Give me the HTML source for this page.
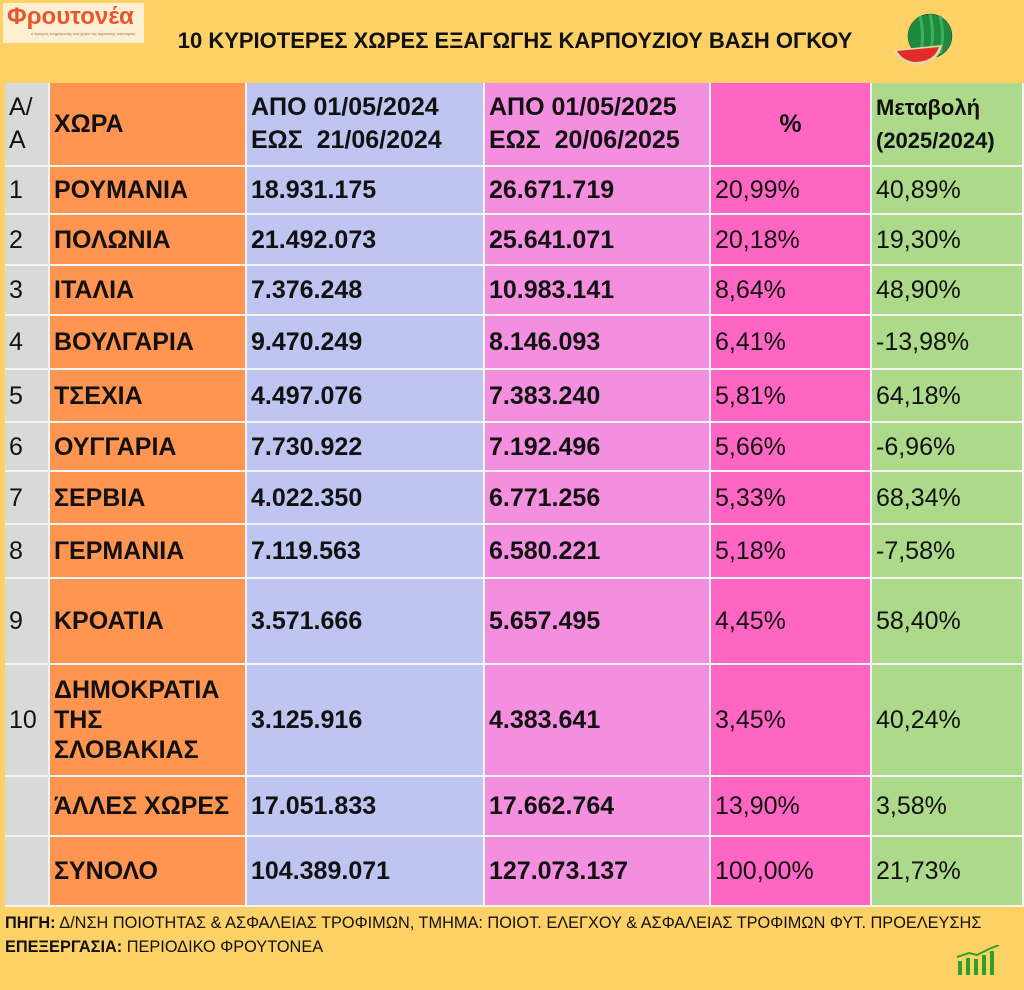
<!DOCTYPE html>
<html><head><meta charset="utf-8">
<style>
body{margin:0;width:1024px;height:990px;background:#fdd166;font-family:"Liberation Sans",sans-serif;position:relative;overflow:hidden}
.c{position:absolute;box-sizing:border-box;display:flex;align-items:center;padding-left:4px;font-size:25px;color:#111;line-height:30px}
.b{font-weight:bold}
#tbg{position:absolute;left:5px;top:83px;width:1019px;height:824px;background:#f4f4f4}
#logo{position:absolute;left:3px;top:3px;width:141px;height:40px;background:#fdf0d2}
#title{position:absolute;left:120px;top:28px;width:790px;text-align:center;font-weight:bold;font-size:22px;color:#111}
.foot{position:absolute;left:5px;font-size:17px;color:#111;transform-origin:0 0;transform:scaleX(0.96);white-space:nowrap}
</style></head>
<body>
<div id="logo">
<div style="color:#e8572c;font-weight:bold;font-size:24px;padding-left:4px;line-height:28px">Φρουτονέα</div>
<div style="font-size:4px;color:#a64;padding-left:28px">ο έγκυρος ενημέρωσης στο χώρο της αγροτικής οικονομίας</div>
</div>
<div id="title">10 ΚΥΡΙΟΤΕΡΕΣ ΧΩΡΕΣ ΕΞΑΓΩΓΗΣ ΚΑΡΠΟΥΖΙΟΥ ΒΑΣΗ ΟΓΚΟΥ</div>
<svg style="position:absolute;left:890px;top:10px" width="70" height="60">
<circle cx="40" cy="26" r="22" fill="#1e8a3e" stroke="#135" stroke-width="0.5"/>
<path d="M30 6 q5 20 0 40 M40 4 q5 20 0 42 M50 6 q5 20 0 38" stroke="#3cb05a" stroke-width="3" fill="none"/>
<path d="M3 40 L52 35 Q48 55 24 55 Q9 52 3 40Z" fill="#e8d9a0"/>
<path d="M7 41 L49 37 Q44 52 24 52 Q12 50 7 41Z" fill="#e52a2a"/>
</svg>
<div id="tbg"></div>
<div id="table"></div>
<div class="foot" style="top:913px"><b>ΠΗΓΗ:</b> Δ/ΝΣΗ ΠΟΙΟΤΗΤΑΣ &amp; ΑΣΦΑΛΕΙΑΣ ΤΡΟΦΙΜΩΝ, ΤΜΗΜΑ: ΠΟΙΟΤ. ΕΛΕΓΧΟΥ &amp; ΑΣΦΑΛΕΙΑΣ ΤΡΟΦΙΜΩΝ ΦΥΤ. ΠΡΟΕΛΕΥΣΗΣ</div>
<div class="foot" style="top:937px"><b>ΕΠΕΞΕΡΓΑΣΙΑ:</b> ΠΕΡΙΟΔΙΚΟ ΦΡΟΥΤΟΝΕΑ</div>
<svg style="position:absolute;left:955px;top:945px" width="55" height="32">
<g fill="#2aa22a"><rect x="3" y="16" width="4" height="14"/><rect x="11" y="13" width="4" height="17"/><rect x="19" y="14" width="4" height="16"/><rect x="27" y="10" width="4" height="20"/><rect x="35" y="6" width="4" height="24"/></g>
<path d="M2 12 L14 8 L22 10 L34 4 L44 0" stroke="#2aa22a" stroke-width="2" fill="none"/>
</svg>
<script>
const idx=["1","2","3","4","5","6","7","8","9","10","",""];
const countries=["ΡΟΥΜΑΝΙΑ","ΠΟΛΩΝΙΑ","ΙΤΑΛΙΑ","ΒΟΥΛΓΑΡΙΑ","ΤΣΕΧΙΑ","ΟΥΓΓΑΡΙΑ","ΣΕΡΒΙΑ","ΓΕΡΜΑΝΙΑ","ΚΡΟΑΤΙΑ","ΔΗΜΟΚΡΑΤΙΑ<br>ΤΗΣ<br>ΣΛΟΒΑΚΙΑΣ","ΆΛΛΕΣ ΧΩΡΕΣ","ΣΥΝΟΛΟ"];
const vol2024=["18.931.175","21.492.073","7.376.248","9.470.249","4.497.076","7.730.922","4.022.350","7.119.563","3.571.666","3.125.916","17.051.833","104.389.071"];
const vol2025=["26.671.719","25.641.071","10.983.141","8.146.093","7.383.240","7.192.496","6.771.256","6.580.221","5.657.495","4.383.641","17.662.764","127.073.137"];
const share=["20,99%","20,18%","8,64%","6,41%","5,81%","5,66%","5,33%","5,18%","4,45%","3,45%","13,90%","100,00%"];
const change=["40,89%","19,30%","48,90%","-13,98%","64,18%","-6,96%","68,34%","-7,58%","58,40%","40,24%","3,58%","21,73%"];
const colX=[5,50,247,485,711,872,1024];
const colors=["#d9d9d9","#ff9550","#bdc5f0","#f48fe0","#ff66c4","#acd98a"];
const rowY=[83,167,215,266,316,370,423,472,525,579,665,777,837,907];
const header=["Α/<br>Α","ΧΩΡΑ","ΑΠΟ 01/05/2024<br>ΕΩΣ&nbsp; 21/06/2024","ΑΠΟ 01/05/2025<br>ΕΩΣ&nbsp; 20/06/2025","%","Μεταβολή<br>(2025/2024)"];
const cols=[idx,countries,vol2024,vol2025,share,change];
const colNames=["index","country","volume-2024","volume-2025","share","change"];
const bold=[false,true,true,true,false,false];
const t=document.getElementById('table');
function cell(r,c,html,isHead){
  const d=document.createElement('div');
  d.className='c'+((isHead&&c>0)||(!isHead&&bold[c])?' b':'');
  
  
  const y0=rowY[r+(isHead?0:1)], y1=rowY[r+(isHead?1:2)];
  d.style.left=colX[c]+'px';d.style.top=y0+'px';
  d.style.width=(colX[c+1]-colX[c]-2)+'px';d.style.height=(y1-y0-2)+'px';
  d.style.background=colors[c];
  if(isHead){d.style.lineHeight='33px'}
  if(isHead&&c===4){d.style.justifyContent='center';d.style.paddingLeft='0'}
  if(isHead&&c===5){d.style.fontSize='22px'}
  d.innerHTML=html;t.appendChild(d);
}
header.forEach((h,c)=>cell(0,c,h,true));
for(let r=0;r<countries.length;r++)for(let c=0;c<6;c++)cell(r,c,cols[c][r],false);
</script>
</body></html>
